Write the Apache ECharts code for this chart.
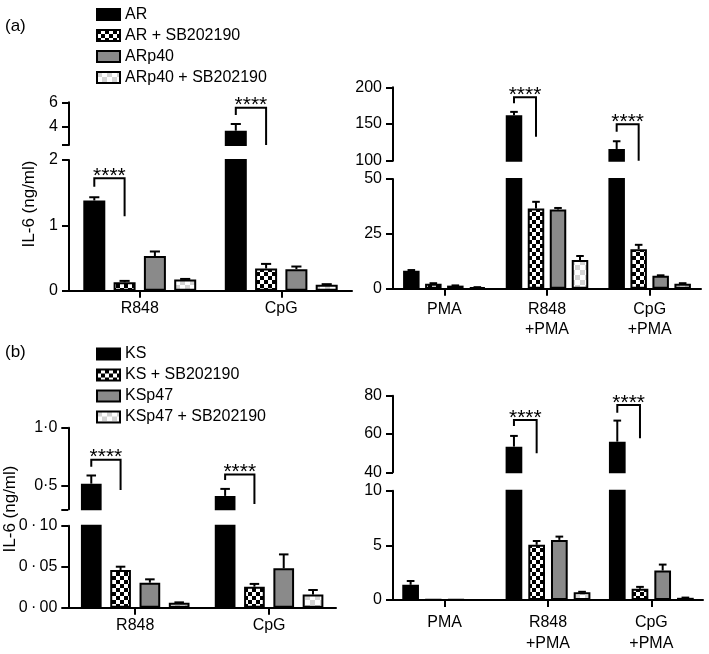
<!DOCTYPE html>
<html>
<head>
<meta charset="utf-8">
<script src="https://cdn.jsdelivr.net/npm/echarts@6/dist/echarts.min.js"></script>
<style>
html,body{margin:0;padding:0;background:#fff;}
#chart{width:709px;height:654px;}
</style>
</head>
<body>
<div id="chart"></div>
<script>
// ---------------- DATA ----------------
const catsLeft = ['R848', 'CpG'];
const catsRight = ['PMA', 'R848\n+PMA', 'CpG\n+PMA'];
const namesA = ['AR', 'AR + SB202190', 'ARp40', 'ARp40 + SB202190'];
const namesB = ['KS', 'KS + SB202190', 'KSp47', 'KSp47 + SB202190'];

// panel (a) left: R848, CpG
const aL_AR = [1.38, 3.67];
const aL_ARSB = [0.13, 0.34];
const aL_ARp40 = [0.53, 0.33];
const aL_ARp40SB = [0.17, 0.09];
const aL_AR_err = [0.05, 0.55];
const aL_ARSB_err = [0.02, 0.07];
const aL_ARp40_err = [0.07, 0.04];
const aL_ARp40SB_err = [0.01, 0.01];

// panel (a) right: PMA, R848+PMA, CpG+PMA
const aR_AR = [8.2, 162, 116];
const aR_ARSB = [2.3, 36.5, 18];
const aR_ARp40 = [1.4, 36.1, 5.9];
const aR_ARp40SB = [0.6, 13.1, 2.3];
const aR_AR_err = [0.3, 4.5, 10.5];
const aR_ARSB_err = [0.2, 3.1, 2.0];
const aR_ARp40_err = [0.1, 0.7, 0.2];
const aR_ARp40SB_err = [0.1, 1.8, 0.2];

// panel (b) left: R848, CpG
const bL_KS = [0.52, 0.415];
const bL_KSSB = [0.046, 0.0256];
const bL_KSp47 = [0.0305, 0.048];
const bL_KSp47SB = [0.006, 0.016];
const bL_KS_err = [0.07, 0.06];
const bL_KSSB_err = [0.004, 0.0034];
const bL_KSp47_err = [0.0041, 0.017];
const bL_KSp47SB_err = [0.0005, 0.0056];

// panel (b) right: PMA, R848+PMA, CpG+PMA
const bR_KS = [1.39, 53.4, 56];
const bR_KSSB = [0.03, 5.05, 1.03];
const bR_KSp47 = [0.05, 5.5, 2.7];
const bR_KSp47SB = [0, 0.7, 0.2];
const bR_KS_err = [0.35, 5.6, 11];
const bR_KSSB_err = [0, 0.35, 0.17];
const bR_KSp47_err = [0, 0.3, 0.54];
const bR_KSp47SB_err = [0, 0.05, 0.02];

// significance brackets: [category index, top, left leg bottom, right leg bottom]
const aL_brackets = [[0, 1.72, 1.59, 1.14], [1, 5.56, 4.96, 2.5]];
const aR_brackets = [[1, 186.4, 178.2, 132.7], [2, 149.6, 139.5, 100]];
const bL_brackets = [[0, 0.726, 0.664, 0.466], [1, 0.599, 0.551, 0.345]];
const bR_brackets = [[1, 67.3, 64.2, 49.9], [2, 75.1, 71.1, 57.8]];
const sigLabel = '****';

// tick values (broken axes: upper and lower segments)
const aL_upperTicks = [2.5, 4, 6];
const aL_upperLabels = [4, 6];
const aL_lowerTicks = [0, 1, 2];
const aR_upperTicks = [100, 150, 200];
const aR_lowerTicks = [0, 25, 50];
const bL_upperTicks = [0.3, 0.5, 1.0];
const bL_upperLabels = [0.5, 1.0];
const bL_lowerTicks = [0, 0.05, 0.10];
const bR_upperTicks = [40, 60, 80];
const bR_lowerTicks = [0, 5, 10];

const yTitle = 'IL-6 (ng/ml)';

// ---------------- STYLE ----------------
const FONT = '"Liberation Sans", Arial, Helvetica, sans-serif';
function checker(c1, c2, cell) {
  const cv = document.createElement('canvas');
  cv.width = cell * 2; cv.height = cell * 2;
  const ctx = cv.getContext('2d');
  ctx.fillStyle = c2; ctx.fillRect(0, 0, cell * 2, cell * 2);
  ctx.fillStyle = c1;
  ctx.fillRect(0, 0, cell, cell);
  ctx.fillRect(cell, cell, cell, cell);
  return cv;
}
const fills = [
  '#000000',
  { image: checker('#000000', '#ffffff', 4), repeat: 'repeat' },
  '#8a8a8a',
  { image: checker('#d4d4d4', '#ffffff', 5), repeat: 'repeat' }
];

const fmtInt = v => String(Math.round(v));
const fmtDot1 = v => v.toFixed(1).replace('.', '·');
const fmtDot2 = v => v.toFixed(2).replace('.', '\u2009·\u2009');

const panels = [
  { cats: catsLeft, names: namesA,
    vals: [aL_AR, aL_ARSB, aL_ARp40, aL_ARp40SB],
    errs: [aL_AR_err, aL_ARSB_err, aL_ARp40_err, aL_ARp40SB_err],
    brackets: aL_brackets,
    upTicks: aL_upperTicks, upLabels: aL_upperLabels, loTicks: aL_lowerTicks,
    upFmt: fmtInt, loFmt: fmtInt, xMargin: 8, xLine: 19,
    left: 69, width: 283, up: { top: 102.3, h: 42.7 }, lo: { top: 160, h: 130.7 }, barW: 22, gap: 8.3 },
  { cats: catsRight, names: namesA,
    vals: [aR_AR, aR_ARSB, aR_ARp40, aR_ARp40SB],
    errs: [aR_AR_err, aR_ARSB_err, aR_ARp40_err, aR_ARp40SB_err],
    brackets: aR_brackets,
    upTicks: aR_upperTicks, upLabels: aR_upperTicks, loTicks: aR_lowerTicks,
    upFmt: fmtInt, loFmt: fmtInt, xMargin: 11, xLine: 20,
    left: 393, width: 308, up: { top: 87.3, h: 73.4 }, lo: { top: 179, h: 109.7 }, barW: 16.5, gap: 5.5 },
  { cats: catsLeft, names: namesB,
    vals: [bL_KS, bL_KSSB, bL_KSp47, bL_KSp47SB],
    errs: [bL_KS_err, bL_KSSB_err, bL_KSp47_err, bL_KSp47SB_err],
    brackets: bL_brackets,
    upTicks: bL_upperTicks, upLabels: bL_upperLabels, loTicks: bL_lowerTicks,
    upFmt: fmtDot1, loFmt: fmtDot2, xMargin: 8, xLine: 19,
    left: 68.3, width: 267.7, up: { top: 427.7, h: 81.6 }, lo: { top: 525.7, h: 82 }, barW: 20.7, gap: 8.6 },
  { cats: catsRight, names: namesB,
    vals: [bR_KS, bR_KSSB, bR_KSp47, bR_KSp47SB],
    errs: [bR_KS_err, bR_KSSB_err, bR_KSp47_err, bR_KSp47SB_err],
    brackets: bR_brackets,
    upTicks: bR_upperTicks, upLabels: bR_upperTicks, loTicks: bR_lowerTicks,
    upFmt: fmtInt, loFmt: fmtInt, xMargin: 12, xLine: 21,
    left: 393, width: 310, up: { top: 395.7, h: 76.6 }, lo: { top: 490.7, h: 113.3 }, barW: 16.7, gap: 6 }
];

const grids = [], xAxes = [], yAxes = [], series = [];
const axisLineStyle = { color: '#000', width: 2 };

function yAxisCfg(gi, ticks, labels, fmt) {
  return {
    type: 'value', gridIndex: gi, min: ticks[0], max: ticks[ticks.length - 1],
    axisLine: { show: true, lineStyle: axisLineStyle },
    axisTick: { show: true, inside: false, length: 7, lineStyle: axisLineStyle, customValues: ticks },
    axisLabel: { show: true, customValues: labels, formatter: fmt, color: '#000', fontSize: 16, fontFamily: FONT, margin: 11 },
    splitLine: { show: false }
  };
}

panels.forEach(p => {
  const u = grids.length, l = u + 1;
  const loMax = p.loTicks[p.loTicks.length - 1];
  const step = p.barW + p.gap;
  const off = i => (i - 1.5) * step;
  grids.push({ left: p.left, width: p.width, top: p.up.top, height: p.up.h });
  grids.push({ left: p.left, width: p.width, top: p.lo.top, height: p.lo.h });
  xAxes.push({ type: 'category', gridIndex: u, data: p.cats, show: false });
  xAxes.push({ type: 'category', gridIndex: l, data: p.cats,
    axisLine: { show: true, onZero: false, lineStyle: axisLineStyle },
    axisTick: { show: true, alignWithLabel: true, length: 7, lineStyle: axisLineStyle },
    axisLabel: { color: '#000', fontSize: 16, fontFamily: FONT, margin: p.xMargin, lineHeight: p.xLine, interval: 0 } });
  yAxes.push(yAxisCfg(u, p.upTicks, p.upLabels, p.upFmt));
  yAxes.push(yAxisCfg(l, p.loTicks, p.loTicks, p.loFmt));

  const itemStyleFor = s => ({ color: fills[s], borderColor: '#000', borderWidth: 2 });
  for (let s = 0; s < 4; s++) {
    series.push({ type: 'bar', name: p.names[s], xAxisIndex: u, yAxisIndex: u,
      data: p.vals[s].map(v => v > loMax ? v : '-'),
      barWidth: p.barW, barGap: (p.gap / p.barW * 100) + '%', clip: true,
      itemStyle: itemStyleFor(s), emphasis: { disabled: true } });
    series.push({ type: 'bar', name: p.names[s], xAxisIndex: l, yAxisIndex: l,
      data: p.vals[s].slice(),
      barWidth: p.barW, barGap: (p.gap / p.barW * 100) + '%', clip: true,
      itemStyle: itemStyleFor(s), emphasis: { disabled: true } });
  }

  // error bars
  const upRows = [], loRows = [];
  for (let s = 0; s < 4; s++) {
    p.vals[s].forEach((v, c) => {
      const e = p.errs[s][c];
      if (!(e > 0)) return;
      (v > loMax ? upRows : loRows).push([c, s, v, e]);
    });
  }
  const errRender = (params, api) => {
    const c = api.value(0), s = api.value(1), v = api.value(2), e = api.value(3);
    const p0 = api.coord([c, v]), p1 = api.coord([c, v + e]);
    const x = p0[0] + off(s);
    const hw = Math.max(3.5, p.barW * 0.23);
    return { type: 'group', children: [
      { type: 'line', shape: { x1: x, y1: p0[1], x2: x, y2: p1[1] }, style: { stroke: '#000', lineWidth: 2 } },
      { type: 'line', shape: { x1: x - hw, y1: p1[1], x2: x + hw, y2: p1[1] }, style: { stroke: '#000', lineWidth: 2 } }
    ] };
  };
  [[u, upRows], [l, loRows]].forEach(([gi, rows]) => {
    if (!rows.length) return;
    series.push({ type: 'custom', xAxisIndex: gi, yAxisIndex: gi, data: rows, encode: { x: 0, y: 2 },
      renderItem: errRender, z: 5, silent: true });
  });

  // significance brackets
  const bUp = [], bLo = [];
  p.brackets.forEach(b => (b[1] > loMax ? bUp : bLo).push(b));
  const brRender = (params, api) => {
    const c = api.value(0);
    const pT = api.coord([c, api.value(1)]);
    const pL = api.coord([c, api.value(2)]);
    const pR = api.coord([c, api.value(3)]);
    const xL = pT[0] + off(0), xR = pT[0] + off(1);
    return { type: 'group', children: [
      { type: 'polyline', shape: { points: [[xL, pL[1]], [xL, pT[1]], [xR, pT[1]], [xR, pR[1]]] },
        style: { stroke: '#000', lineWidth: 2, fill: null } },
      { type: 'text', x: (xL + xR) / 2, y: pT[1] - 2,
        style: { text: sigLabel, fontSize: 21, fontFamily: FONT, fill: '#000', align: 'center', verticalAlign: 'middle' } }
    ] };
  };
  [[u, bUp], [l, bLo]].forEach(([gi, rows]) => {
    if (!rows.length) return;
    series.push({ type: 'custom', xAxisIndex: gi, yAxisIndex: gi, data: rows, encode: { x: 0, y: 1 },
      renderItem: brRender, z: 6, silent: true, clip: false });
  });
});

const legendBase = {
  orient: 'vertical', left: 91, icon: 'rect', itemWidth: 23, itemHeight: 11, itemGap: 5,
  selectedMode: false,
  textStyle: { color: '#000', fontSize: 16, fontFamily: FONT }
};

const option = {
  animation: false,
  backgroundColor: '#fff',
  grid: grids, xAxis: xAxes, yAxis: yAxes, series: series,
  legend: [
    Object.assign({}, legendBase, { top: 1.5, data: namesA }),
    Object.assign({}, legendBase, { top: 341, data: namesB })
  ],
  graphic: [
    { type: 'text', left: 5, top: 18, style: { text: '(a)', fontSize: 17, fontFamily: FONT, fill: '#000' } },
    { type: 'text', left: 5, top: 344, style: { text: '(b)', fontSize: 17, fontFamily: FONT, fill: '#000' } },
    { type: 'text', x: 29, y: 204, rotation: Math.PI / 2,
      style: { text: yTitle, fontSize: 17, fontFamily: FONT, fill: '#000', align: 'center', verticalAlign: 'middle' } },
    { type: 'text', x: 10.5, y: 509, rotation: Math.PI / 2,
      style: { text: yTitle, fontSize: 17, fontFamily: FONT, fill: '#000', align: 'center', verticalAlign: 'middle' } }
  ]
};

const chart = echarts.init(document.getElementById('chart'), null, { renderer: 'canvas' });
chart.setOption(option);
</script>
</body>
</html>
